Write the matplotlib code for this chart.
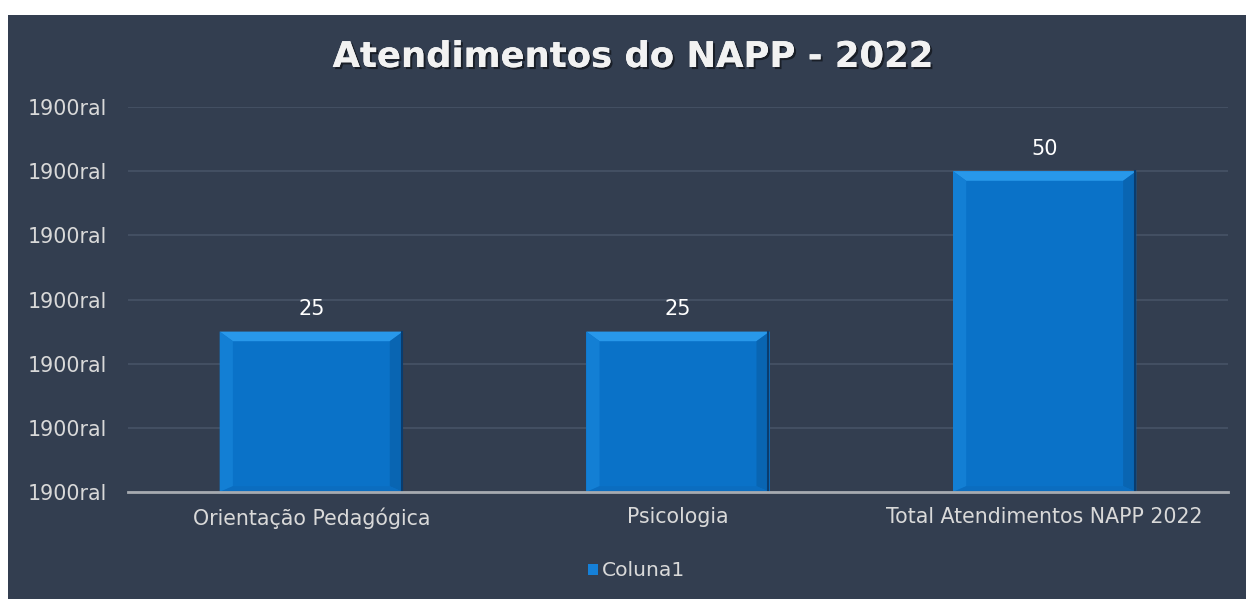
import matplotlib
matplotlib.use("Agg")
import matplotlib.pyplot as plt
from matplotlib.patches import Rectangle, Polygon
import matplotlib.patheffects as pe

categories = ["Orientação Pedagógica", "Psicologia", "Total Atendimentos NAPP 2022"]
values = [25, 25, 50]
series_name = "Coluna1"
title = "Atendimentos do NAPP - 2022"
y_ticks = [0, 10, 20, 30, 40, 50, 60]
y_tick_labels = ["1900ral"] * len(y_ticks)

BG = "#333E50"
TXT = "#D9D9D9"

fig = plt.figure(figsize=(12.46, 5.99), dpi=100)
fig.patch.set_facecolor("white")
fig.patches.append(Rectangle((8 / 1246, 0), 1 - 8 / 1246, 1 - 15 / 599,
                             transform=fig.transFigure, facecolor=BG,
                             edgecolor="none", zorder=-10))

ax = fig.add_axes([128 / 1246, 1 - 492 / 599, 1100 / 1246, 385 / 599])
ax.set_facecolor("none")

x = list(range(len(categories)))
bw = 0.5
bars = ax.bar(x, values, width=bw, color="#0A72C8", edgecolor="none", zorder=3)

# bevel effect
bx = 0.036
by = 1.5
for xi, v in zip(x, values):
    l, r = xi - bw / 2, xi + bw / 2
    b, t = 0, v
    ax.add_patch(Polygon([(l, t), (r, t), (r - bx, t - by), (l + bx, t - by)],
                         closed=True, facecolor="#2898EA", edgecolor="none", zorder=4))
    ax.add_patch(Polygon([(l, t), (l + bx, t - by), (l + bx, b + by * 0.6), (l, b)],
                         closed=True, facecolor="#137FD4", edgecolor="none", zorder=4))
    ax.add_patch(Polygon([(r, t), (r - bx, t - by), (r - bx, b + by * 0.6), (r, b)],
                         closed=True, facecolor="#0965B2", edgecolor="none", zorder=4))
    ax.add_patch(Polygon([(l, b), (l + bx, b + by * 0.6), (r - bx, b + by * 0.6), (r, b)],
                         closed=True, facecolor="#0B6DC0", edgecolor="none", zorder=4))
    ax.plot([r - 0.004, r - 0.004], [b, t], color="#0A3C6E", lw=1.5, zorder=5)

for xi, v in zip(x, values):
    ax.annotate(str(v), (xi, v), xytext=(0, 9), textcoords="offset points",
                ha="center", va="bottom", color="white", fontsize=15)

ax.set_xlim(-0.5, len(categories) - 0.5)
ax.set_ylim(0, 60)
ax.set_yticks(y_ticks)
ax.set_yticklabels(y_tick_labels)
ax.set_xticks(x)
ax.set_xticklabels(categories)
ax.tick_params(axis="both", length=0, colors=TXT, labelsize=14.8)
ax.tick_params(axis="y", pad=15)
ax.tick_params(axis="x", pad=11)
ax.grid(axis="y", color="#475366", lw=1.2, zorder=0)
ax.set_axisbelow(True)
for s in ["top", "right", "left"]:
    ax.spines[s].set_visible(False)
ax.spines["bottom"].set_color("#A6AAB0")
ax.spines["bottom"].set_linewidth(2)
ax.spines["bottom"].set_zorder(6)

fig.text(0.508, 1 - 57 / 599, title, ha="center", va="center", color="#F2F2F2",
         fontsize=25.5, fontweight="bold",
         path_effects=[pe.withSimplePatchShadow(offset=(1.5, -1.5), shadow_rgbFace="black", alpha=0.5),
                       pe.Normal()])

leg_handle = Rectangle((0, 0), 1, 1, facecolor="#1580D8", edgecolor="none")
leg = fig.legend([leg_handle], [series_name], loc="center", bbox_to_anchor=(0.511, 1 - 571 / 599),
                 frameon=False, fontsize=14.6, handlelength=0.45, handleheight=0.45,
                 handletextpad=0.2, labelcolor=TXT)

fig.savefig("out.png", dpi=100, facecolor=fig.get_facecolor())
